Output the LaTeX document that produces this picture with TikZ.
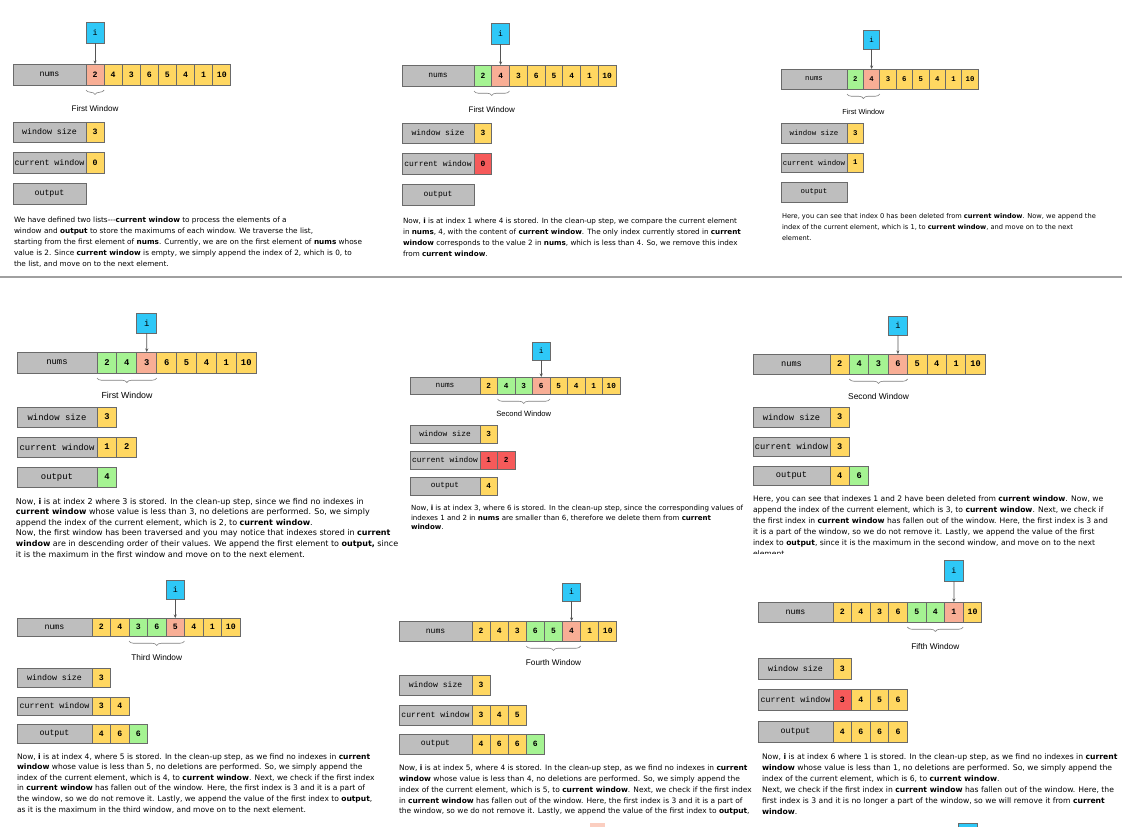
\documentclass[tikz,border=0pt]{standalone}
\usepackage{fontspec}
\usetikzlibrary{arrows.meta,decorations.pathreplacing}
\newfontfamily\txtf{DejaVu Sans}
\newfontfamily\monof{Liberation Mono}
\newfontfamily\lblf{Liberation Sans}
\definecolor{boxg}{HTML}{BEBEBE}
\definecolor{edgeg}{HTML}{6A6A6A}
\definecolor{yel}{HTML}{FFD761}
\definecolor{pch}{HTML}{F8AE95}
\definecolor{grn}{HTML}{A5F392}
\definecolor{rd}{HTML}{F65A5A}
\definecolor{blu}{HTML}{2EC8F7}
\definecolor{arrg}{HTML}{555555}
\definecolor{sepg}{HTML}{A0A0A0}
\tikzset{
  lblbox/.style={draw=edgeg, fill=boxg, line width=0.9pt, inner sep=0pt, outer sep=0pt,
    anchor=north west, font={\monof\fontsize{\mfs}{\mfs}\selectfont}},
  cellbox/.style={draw=edgeg, line width=0.9pt, inner sep=0pt, outer sep=0pt,
    anchor=north west, font={\monof\bfseries\fontsize{\cfs}{\cfs}\selectfont}},
  ibox/.style={cellbox, fill=blu, font={\monof\fontsize{\mfs}{\mfs}\selectfont}},
  ptr/.style={draw=arrg, line width=0.7pt, -{Stealth[length=3.5pt,width=3pt]}},
  brc/.style={draw=gray, line width=0.6pt, decorate, decoration={brace, mirror, amplitude=4.5pt}},
  winlbl/.style={inner sep=0pt, font={\lblf\fontsize{\wfs}{\wfs}\selectfont}},
  para/.style={inner sep=0pt, outer sep=0pt, anchor=north west, align=left,
    font={\txtf\fontsize{\tfs}{\tls}\selectfont}},
  sepline/.style={draw=sepg, line width=1.8pt},
}
% \rowlabel{name}{x left}{x right}{y top}{y bottom}{text}
\newcommand{\rowlabel}[6]{\node[lblbox, minimum width={#3-#2}, minimum height={#5-#4}] (#1) at (#2,#4) {#6};}
% \rowcells{prefix}{x start}{y top}{y bottom}{colour/value list}
\newcommand{\rowcells}[5]{\foreach \cc/\vv [count=\k from 0] in {#5}{%
  \node[cellbox, fill=\cc, minimum width=\cw, minimum height={#4-#3}] (#1\k) at ({#2+\k*\cw},#3) {\vv};}}
\newcommand{\setpanel}[6]{\def\cw{#1}\def\mfs{#2}\def\cfs{#3}\def\wfs{#4}\def\tfs{#5}\def\tls{#6}}

\begin{document}
\begin{tikzpicture}[x=1pt,y=-1pt]
\useasboundingbox (0,0) rectangle (1122,827);
\fill[white] (0,0) rectangle (1122,827);

% ---------- step 1 ----------
\begin{scope}
\setpanel{18.1}{8.3}{8.2}{8.1}{7.3}{11}
\rowlabel{p1nl}{13}{86}{64}{85}{nums}
\rowcells{p1n}{86}{64}{85}{pch/2,yel/4,yel/3,yel/6,yel/5,yel/4,yel/1,yel/10}
\node[ibox, minimum width=\cw, minimum height=21] (p1i) at (86,22) {i};
\draw[ptr] (p1i) -- (p1n0);
\draw[brc] ([yshift=-5pt]p1n0.south west) -- ([yshift=-5pt]p1n0.south east);
\node[winlbl] (p1win) at (95,109) {First Window};
\rowlabel{p1wl}{13}{86}{122}{142}{window size}
\rowcells{p1w}{86}{122}{142}{yel/3}
\rowlabel{p1cl}{13}{86}{152}{173}{current window}
\rowcells{p1c}{86}{152}{173}{yel/0}
\rowlabel{p1ol}{13}{86}{183}{204}{output}
\node[para] (p1t) at (14,217.4) {We have defined two lists---\textbf{current window} to process the elements of a\\
window and \textbf{output} to store the maximums of each window. We traverse the list,\\
starting from the first element of \textbf{nums}. Currently, we are on the first element of \textbf{nums} whose\\
value is 2. Since \textbf{current window} is empty, we simply append the index of 2, which is 0, to\\
the list, and move on to the next element.};
\end{scope}

% ---------- step 2 ----------
\begin{scope}
\setpanel{17.75}{8.0}{7.9}{8.0}{7.2}{11}
\rowlabel{p2nl}{402}{474}{65}{86}{nums}
\rowcells{p2n}{474}{65}{86}{grn/2,pch/4,yel/3,yel/6,yel/5,yel/4,yel/1,yel/10}
\node[ibox, minimum width=\cw, minimum height=21] (p2i) at (491.75,23) {i};
\draw[ptr] (p2i) -- (p2n1);
\draw[brc] ([yshift=-5pt]p2n0.south west) -- ([yshift=-5pt]p2n1.south east);
\node[winlbl] (p2win) at (491.75,110) {First Window};
\rowlabel{p2wl}{402}{474}{123}{143}{window size}
\rowcells{p2w}{474}{123}{143}{yel/3}
\rowlabel{p2cl}{402}{474}{153}{174}{current window}
\rowcells{p2c}{474}{153}{174}{rd/0}
\rowlabel{p2ol}{402}{474}{184}{205}{output}
\node[para] (p2t) at (403,218.5) {Now, \textbf{i} is at index 1 where 4 is stored. In the clean-up step, we compare the current element\\
in \textbf{nums}, 4, with the content of \textbf{current window}. The only index currently stored in \textbf{current}\\
\textbf{window} corresponds to the value 2 in \textbf{nums}, which is less than 4. So, we remove this index\\
from \textbf{current window}.};
\end{scope}

% ---------- step 3 ----------
\begin{scope}
\setpanel{16.4}{7.4}{7.3}{7.3}{6.65}{11}
\rowlabel{p3nl}{781}{847}{69}{89}{nums}
\rowcells{p3n}{847}{69}{89}{grn/2,pch/4,yel/3,yel/6,yel/5,yel/4,yel/1,yel/10}
\node[ibox, minimum width=\cw, minimum height=19] (p3i) at (863.4,30) {i};
\draw[ptr] (p3i) -- (p3n1);
\draw[brc] ([yshift=-5pt]p3n0.south west) -- ([yshift=-5pt]p3n1.south east);
\node[winlbl] (p3win) at (863.4,112) {First Window};
\rowlabel{p3wl}{781}{847}{123}{143}{window size}
\rowcells{p3w}{847}{123}{143}{yel/3}
\rowlabel{p3cl}{781}{847}{153}{172}{current window}
\rowcells{p3c}{847}{153}{172}{yel/1}
\rowlabel{p3ol}{781}{847}{182}{202}{output}
\node[para] (p3t) at (782,213.7) {Here, you can see that index 0 has been deleted from \textbf{current window}. Now, we append the\\
index of the current element, which is 1, to \textbf{current window}, and move on to the next\\
element.};
\end{scope}

\draw[sepline] (0,277) coordinate (sepl) -- (1122,277) coordinate (sepr);

% ---------- step 4 ----------
\begin{scope}
\setpanel{19.9}{8.9}{8.8}{8.8}{8.0}{10.6}
\rowlabel{p4nl}{17}{97}{352}{373}{nums}
\rowcells{p4n}{97}{352}{373}{grn/2,grn/4,pch/3,yel/6,yel/5,yel/4,yel/1,yel/10}
\node[ibox, minimum width=\cw, minimum height=20] (p4i) at (136.8,313) {i};
\draw[ptr] (p4i) -- (p4n2);
\draw[brc] ([yshift=-5pt]p4n0.south west) -- ([yshift=-5pt]p4n2.south east);
\node[winlbl] (p4win) at (127,395) {First Window};
\rowlabel{p4wl}{17}{97}{407}{427}{window size}
\rowcells{p4w}{97}{407}{427}{yel/3}
\rowlabel{p4cl}{17}{97}{437}{457}{current window}
\rowcells{p4c}{97}{437}{457}{yel/1,yel/2}
\rowlabel{p4ol}{17}{97}{467}{487}{output}
\rowcells{p4o}{97}{467}{487}{grn/4}
\node[para] (p4t) at (16,498) {Now, \textbf{i} is at index 2 where 3 is stored. In the clean-up step, since we find no indexes in\\
\textbf{current window} whose value is less than 3, no deletions are performed. So, we simply\\
append the index of the current element, which is 2, to \textbf{current window}.\\
Now, the first window has been traversed and you may notice that indexes stored in \textbf{current}\\
\textbf{window} are in descending order of their values. We append the first element to \textbf{output,} since\\
it is the maximum in the first window and move on to the next element.};
\end{scope}

% ---------- step 5 ----------
\begin{scope}
\setpanel{17.5}{7.8}{7.7}{7.6}{7.05}{9.3}
\rowlabel{p5nl}{410}{480}{377}{394}{nums}
\rowcells{p5n}{480}{377}{394}{yel/2,grn/4,grn/3,pch/6,yel/5,yel/4,yel/1,yel/10}
\node[ibox, minimum width=\cw, minimum height=18] (p5i) at (532.5,342) {i};
\draw[ptr] (p5i) -- (p5n3);
\draw[brc] ([yshift=-5pt]p5n1.south west) -- ([yshift=-5pt]p5n3.south east);
\node[winlbl] (p5win) at (523.75,414) {Second Window};
\rowlabel{p5wl}{410}{480}{425}{443}{window size}
\rowcells{p5w}{480}{425}{443}{yel/3}
\rowlabel{p5cl}{410}{480}{451}{469}{current window}
\rowcells{p5c}{480}{451}{469}{rd/1,rd/2}
\rowlabel{p5ol}{410}{480}{477}{495}{output}
\rowcells{p5o}{480}{477}{495}{yel/4}
\node[para] (p5t) at (411,505.5) {Now, \textbf{i} is at index 3, where 6 is stored. In the clean-up step, since the corresponding values of\\
indexes 1 and 2 in \textbf{nums} are smaller than 6, therefore we delete them from \textbf{current}\\
\textbf{window}.};
\end{scope}

% ---------- step 6 ----------
\begin{scope}
\setpanel{19.4}{8.7}{8.6}{8.4}{7.6}{10.9}
\rowlabel{p6nl}{753}{830}{354}{374}{nums}
\rowcells{p6n}{830}{354}{374}{yel/2,grn/4,grn/3,pch/6,yel/5,yel/4,yel/1,yel/10}
\node[ibox, minimum width=\cw, minimum height=19] (p6i) at (888.2,316) {i};
\draw[ptr] (p6i) -- (p6n3);
\draw[brc] ([yshift=-5pt]p6n1.south west) -- ([yshift=-5pt]p6n3.south east);
\node[winlbl] (p6win) at (878.5,396) {Second Window};
\rowlabel{p6wl}{753}{830}{407}{427}{window size}
\rowcells{p6w}{830}{407}{427}{yel/3}
\rowlabel{p6cl}{753}{830}{437}{456}{current window}
\rowcells{p6c}{830}{437}{456}{yel/3}
\rowlabel{p6ol}{753}{830}{466}{485}{output}
\rowcells{p6o}{830}{466}{485}{yel/4,grn/6}
\begin{scope}
\clip (745,480) rectangle (1122,553.5);
\node[para] (p6t) at (753,495.8) {Here, you can see that indexes 1 and 2 have been deleted from \textbf{current window}. Now, we\\
append the index of the current element, which is 3, to \textbf{current window}. Next, we check if\\
the first index in \textbf{current window} has fallen out of the window. Here, the first index is 3 and\\
it is a part of the window, so we do not remove it. Lastly, we append the value of the first\\
index to \textbf{output}, since it is the maximum in the second window, and move on to the next\\
element.};
\end{scope}
\end{scope}

% ---------- step 7 ----------
\begin{scope}
\setpanel{18.5}{8.3}{8.2}{8.3}{7.55}{10.6}
\rowlabel{p7nl}{17}{92}{618}{636}{nums}
\rowcells{p7n}{92}{618}{636}{yel/2,yel/4,grn/3,grn/6,pch/5,yel/4,yel/1,yel/10}
\node[ibox, minimum width=\cw, minimum height=19] (p7i) at (166,580) {i};
\draw[ptr] (p7i) -- (p7n4);
\draw[brc] ([yshift=-5pt]p7n2.south west) -- ([yshift=-5pt]p7n4.south east);
\node[winlbl] (p7win) at (156.75,658) {Third Window};
\rowlabel{p7wl}{17}{92}{668}{687}{window size}
\rowcells{p7w}{92}{668}{687}{yel/3}
\rowlabel{p7cl}{17}{92}{697}{715}{current window}
\rowcells{p7c}{92}{697}{715}{yel/3,yel/4}
\rowlabel{p7ol}{17}{92}{724}{743}{output}
\rowcells{p7o}{92}{724}{743}{yel/4,yel/6,grn/6}
\node[para] (p7t) at (17,753.3) {Now, \textbf{i} is at index 4, where 5 is stored. In the clean-up step, as we find no indexes in \textbf{current}\\
\textbf{window} whose value is less than 5, no deletions are performed. So, we simply append the\\
index of the current element, which is 4, to \textbf{current window}. Next, we check if the first index\\
in \textbf{current window} has fallen out of the window. Here, the first index is 3 and it is a part of\\
the window, so we do not remove it. Lastly, we append the value of the first index to \textbf{output},\\
as it is the maximum in the third window, and move on to the next element.};
\end{scope}

% ---------- step 8 ----------
\begin{scope}
\setpanel{18.1}{8.1}{8.0}{8.2}{7.45}{10.7}
\rowlabel{p8nl}{399}{472}{621}{641}{nums}
\rowcells{p8n}{472}{621}{641}{yel/2,yel/4,yel/3,grn/6,grn/5,pch/4,yel/1,yel/10}
\node[ibox, minimum width=\cw, minimum height=18] (p8i) at (562.5,583) {i};
\draw[ptr] (p8i) -- (p8n5);
\draw[brc] ([yshift=-5pt]p8n3.south west) -- ([yshift=-5pt]p8n5.south east);
\node[winlbl] (p8win) at (553.5,663) {Fourth Window};
\rowlabel{p8wl}{399}{472}{675}{695}{window size}
\rowcells{p8w}{472}{675}{695}{yel/3}
\rowlabel{p8cl}{399}{472}{705}{725}{current window}
\rowcells{p8c}{472}{705}{725}{yel/3,yel/4,yel/5}
\rowlabel{p8ol}{399}{472}{734}{754}{output}
\rowcells{p8o}{472}{734}{754}{yel/4,yel/6,yel/6,grn/6}
\node[para] (p8t) at (399,765.3) {Now, \textbf{i} is at index 5, where 4 is stored. In the clean-up step, as we find no indexes in \textbf{current}\\
\textbf{window} whose value is less than 4, no deletions are performed. So, we simply append the\\
index of the current element, which is 5, to \textbf{current window}. Next, we check if the first index\\
in \textbf{current window} has fallen out of the window. Here, the first index is 3 and it is a part of\\
the window, so we do not remove it. Lastly, we append the value of the first index to \textbf{output},};
\end{scope}

% ---------- step 9 ----------
\begin{scope}
\setpanel{18.6}{8.3}{8.2}{8.3}{7.65}{11}
\rowlabel{p9nl}{758}{833}{602}{622}{nums}
\rowcells{p9n}{833}{602}{622}{yel/2,yel/4,yel/3,yel/6,grn/5,grn/4,pch/1,yel/10}
\node[ibox, minimum width=\cw, minimum height=21] (p9i) at (944.6,560) {i};
\draw[ptr] (p9i) -- (p9n6);
\draw[brc] ([yshift=-5pt]p9n4.south west) -- ([yshift=-5pt]p9n6.south east);
\node[winlbl] (p9win) at (935.3,647) {Fifth Window};
\rowlabel{p9wl}{758}{833}{658}{679}{window size}
\rowcells{p9w}{833}{658}{679}{yel/3}
\rowlabel{p9cl}{758}{833}{689}{710}{current window}
\rowcells{p9c}{833}{689}{710}{rd/3,yel/4,yel/5,yel/6}
\rowlabel{p9ol}{758}{833}{721}{742}{output}
\rowcells{p9o}{833}{721}{742}{yel/4,yel/6,yel/6,yel/6}
\node[para] (p9t) at (762,753.2) {Now, \textbf{i} is at index 6 where 1 is stored. In the clean-up step, as we find no indexes in \textbf{current}\\
\textbf{window} whose value is less than 1, no deletions are performed. So, we simply append the\\
index of the current element, which is 6, to \textbf{current window}.\\
Next, we check if the first index in \textbf{current window} has fallen out of the window. Here, the\\
first index is 3 and it is no longer a part of the window, so we will remove it from \textbf{current}\\
\textbf{window}.};
\end{scope}

% tops of the boxes of the next steps, cut by the lower edge
\fill[pch!60!white] (590,823) rectangle (605,827);
\filldraw[fill=blu, draw=edgeg] (958,823) rectangle (977,828);
\end{tikzpicture}
\end{document}
